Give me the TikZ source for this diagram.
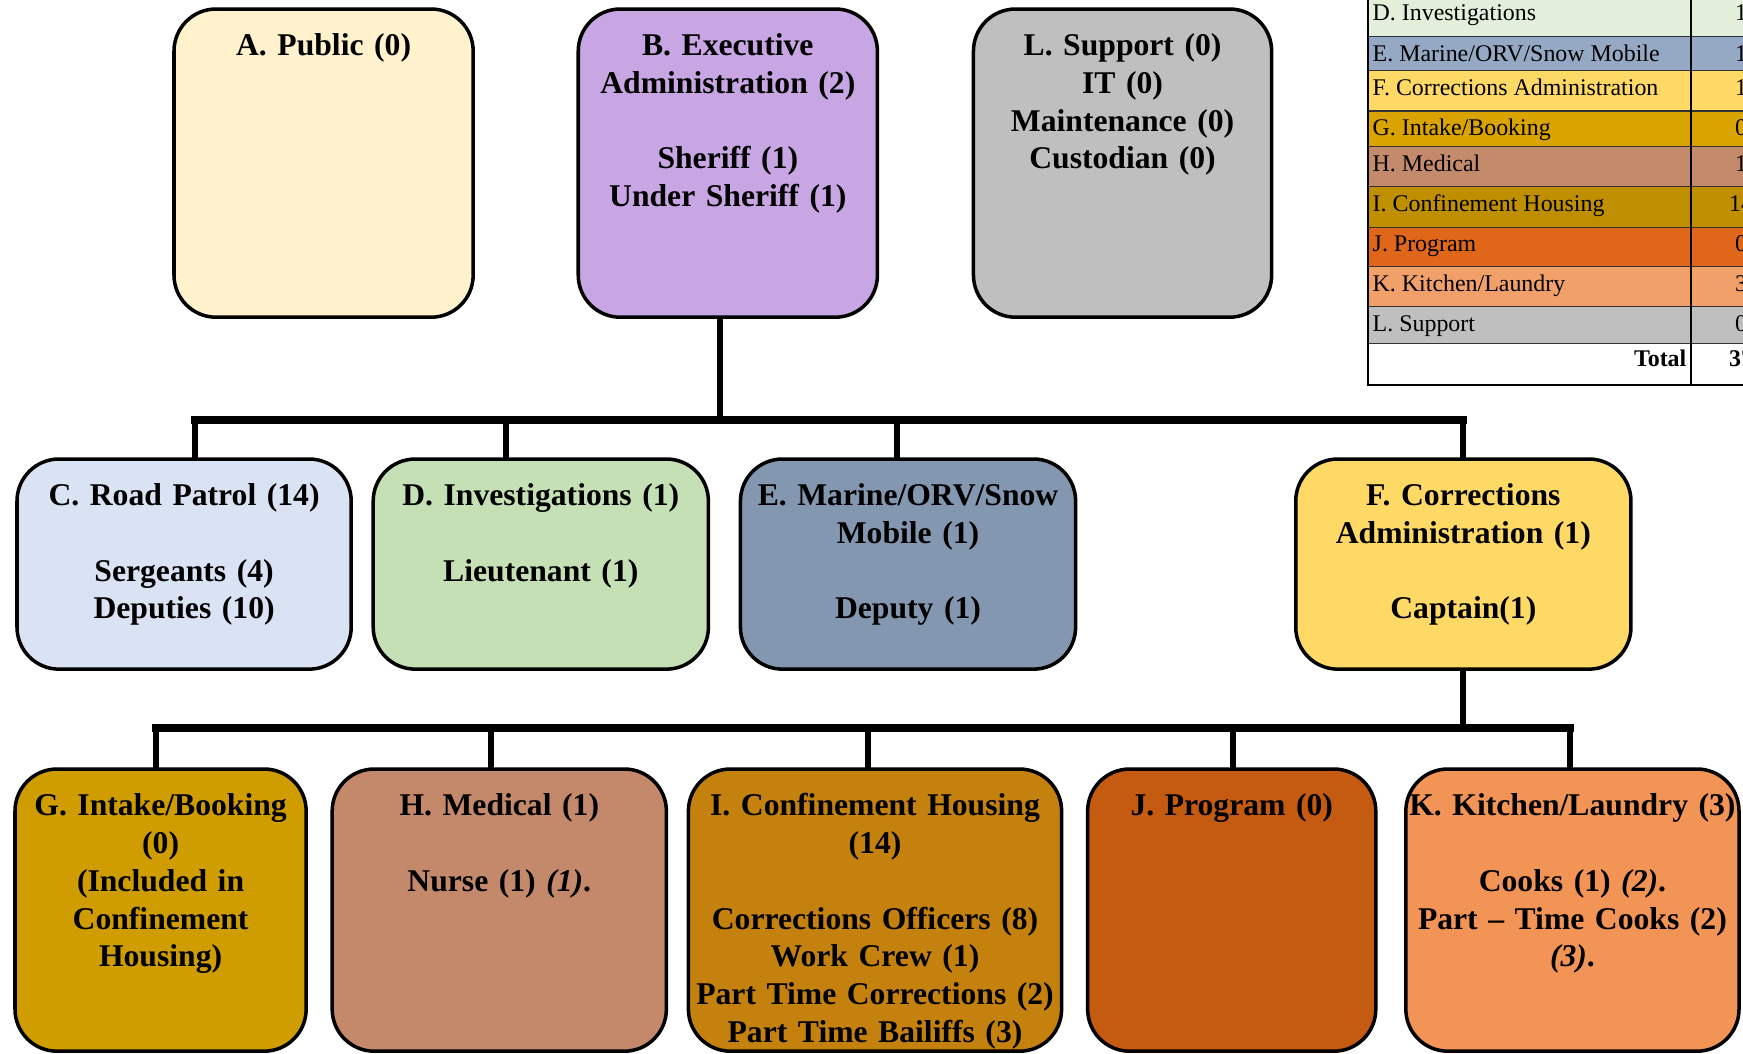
\documentclass[tikz,border=0pt]{standalone}
\usepackage{fontspec}
\setmainfont{Liberation Serif}
\usetikzlibrary{positioning}
\definecolor{PublicFill}{HTML}{FFF2CC}
\definecolor{ExecFill}{HTML}{C8A5E3}
\definecolor{SupportFill}{HTML}{BFBFBF}
\definecolor{PatrolFill}{HTML}{DAE3F3}
\definecolor{InvestFill}{HTML}{C5E0B4}
\definecolor{MarineFill}{HTML}{8497B0}
\definecolor{CorrFill}{HTML}{FFD966}
\definecolor{IntakeFill}{HTML}{CF9D00}
\definecolor{MedicalFill}{HTML}{C4896B}
\definecolor{HousingFill}{HTML}{C4810D}
\definecolor{ProgramFill}{HTML}{C55A11}
\definecolor{KitchenFill}{HTML}{F19455}
\definecolor{RowD}{HTML}{E2EFDA}
\definecolor{RowE}{HTML}{95A8C4}
\definecolor{RowF}{HTML}{FFD966}
\definecolor{RowG}{HTML}{D9A300}
\definecolor{RowH}{HTML}{C38A6B}
\definecolor{RowI}{HTML}{BF8F00}
\definecolor{RowJ}{HTML}{E0661A}
\definecolor{RowK}{HTML}{F2A06A}
\definecolor{RowL}{HTML}{BFBFBF}
\tikzset{
    % rounded unit boxes, text hung from the top
    unitbox/.style={
        rectangle,
        rounded corners=0.42cm,
        draw=black,
        line width=1pt,
        align=center,
        inner xsep=0.02cm,
        inner ysep=0pt,
        outer sep=0pt,
        text height=0.46cm,
        font=\fontsize{9}{10.8}\selectfont\bfseries
    },
    toprow/.style={unitbox, text depth=2.62cm},
    midrow/.style={unitbox, text depth=1.64cm},
    lowrow/.style={unitbox, text depth=2.36cm},
    busline/.style={line width=2.3pt, line cap=rect},
    branch/.style={line width=1.9pt},
    tabletext/.style={inner sep=0pt, font=\fontsize{6.8}{8}\selectfont},
    tablerule/.style={line width=0.4pt, draw=black!80}
}
\begin{document}
\begin{tikzpicture}[x=0.01cm, y=-0.01cm]
    \path[use as bounding box, clip] (0,0) rectangle (1743,1053);
    \fill[white] (0,0) rectangle (1743,1053);

    % Top row
    \node[toprow, fill=PublicFill, text width=2.95cm, anchor=north west] (a) at (174,9) {A. Public (0)};
    \node[toprow, fill=ExecFill, text width=2.95cm, right=1.05cm of a] (b) {
        B. Executive\\Administration (2)\\[10.8pt]
        Sheriff (1)\\Under Sheriff (1)
    };
    \node[toprow, fill=SupportFill, text width=2.94cm, right=0.96cm of b] (l) {
        L. Support (0)\\IT (0)\\Maintenance (0)\\Custodian (0)
    };

    % Middle row
    \node[midrow, fill=PatrolFill, text width=3.30cm, anchor=north west] (c) at (17,459) {
        C. Road Patrol (14)\\[10.8pt]
        Sergeants (4)\\Deputies (10)
    };
    \node[midrow, fill=InvestFill, text width=3.31cm, right=0.22cm of c] (d) {
        D. Investigations (1)\\[10.8pt]
        Lieutenant (1)
    };
    \node[midrow, fill=MarineFill, text width=3.31cm, right=0.32cm of d] (e) {
        E. Marine/ORV/Snow\\Mobile (1)\\[10.8pt]
        Deputy (1)
    };
    \node[midrow, fill=CorrFill, text width=3.31cm, right=2.20cm of e] (f) {
        F. Corrections\\Administration (1)\\[10.8pt]
        Captain(1)
    };

    % Bottom row
    \node[lowrow, fill=IntakeFill, text width=2.87cm, anchor=north west] (g) at (15,769) {
        G. Intake/Booking\\(0)\\(Included in\\Confinement\\Housing)
    };
    \node[lowrow, fill=MedicalFill, text width=3.30cm, right=0.26cm of g] (h) {
        H. Medical (1)\\[10.8pt]
        Nurse (1) \textit{(1)}.
    };
    \node[lowrow, fill=HousingFill, text width=3.69cm, right=0.22cm of h] (i) {
        I. Confinement Housing\\(14)\\[10.8pt]
        Corrections Officers (8)\\Work Crew (1)\\Part Time Corrections (2)\\Part Time Bailiffs (3)
    };
    \node[lowrow, fill=ProgramFill, text width=2.84cm, right=0.26cm of i] (j) {J. Program (0)};
    \node[lowrow, fill=KitchenFill, text width=3.29cm, right=0.30cm of j] (k) {
        K. Kitchen/Laundry (3)\\[10.8pt]
        Cooks (1) \textit{(2)}.\\Part -- Time Cooks (2)\\\textit{(3)}.
    };

    % Connectors
    \coordinate (hub1) at (720,420);
    \foreach \n/\x in {c/195, d/506, e/897, f/1463}
        \coordinate (drop-\n) at (\x,420);
    \draw[branch] (hub1 |- b.south) -- (hub1);
    \draw[busline] (drop-c) -- (drop-f);
    \foreach \n in {c,d,e,f}
        \draw[branch] (drop-\n) -- (drop-\n |- \n.north);

    \coordinate (hub2) at (1463,728);
    \foreach \n/\x in {g/156, h/491, i/868, j/1233, k/1570}
        \coordinate (drop-\n) at (\x,728);
    \draw[branch] (hub2 |- f.south) -- (hub2);
    \draw[busline] (drop-g) -- (drop-k);
    \foreach \n in {g,h,i,j,k}
        \draw[branch] (drop-\n) -- (drop-\n |- \n.north);

    % Staffing table (cut by the right edge)
    \fill[RowD] (1368,-10) rectangle (1800,36.7);
    \fill[RowE] (1368,36.7) rectangle (1800,70.7);
    \fill[RowF] (1368,70.7) rectangle (1800,111);
    \fill[RowG] (1368,111) rectangle (1800,146.7);
    \fill[RowH] (1368,146.7) rectangle (1800,186.7);
    \fill[RowI] (1368,186.7) rectangle (1800,227.3);
    \fill[RowJ] (1368,227.3) rectangle (1800,266.7);
    \fill[RowK] (1368,266.7) rectangle (1800,306.7);
    \fill[RowL] (1368,306.7) rectangle (1800,343.3);
    \foreach \y in {36.7, 70.7, 111, 146.7, 186.7, 227.3, 266.7, 306.7, 343.3}
        \draw[tablerule] (1368,\y) -- (1800,\y);
    \draw[line width=0.5pt] (1691,-10) -- (1691,385);
    \draw[line width=0.8pt] (1368,-10) -- (1368,385) -- (1800,385);

    \node[tabletext, anchor=base west] (tab-d) at (1372,20.5) {D. Investigations};
    \node[tabletext, anchor=base west] (tab-e) at (1372,61.2) {E. Marine/ORV/Snow Mobile};
    \node[tabletext, anchor=base west] (tab-f) at (1372,95.6) {F. Corrections Administration};
    \node[tabletext, anchor=base west] (tab-g) at (1372,135.5) {G. Intake/Booking};
    \node[tabletext, anchor=base west] (tab-h) at (1372,171.2) {H. Medical};
    \node[tabletext, anchor=base west] (tab-i) at (1372,211.2) {I. Confinement Housing};
    \node[tabletext, anchor=base west] (tab-j) at (1372,251.8) {J. Program};
    \node[tabletext, anchor=base west] (tab-k) at (1372,291.2) {K. Kitchen/Laundry};
    \node[tabletext, anchor=base west] (tab-l) at (1372,331.2) {L. Support};
    \node[tabletext, anchor=base east, font=\fontsize{6.8}{8}\selectfont\bfseries] (tab-total) at (1687,366.8) {Total};

    \node[tabletext, anchor=base] (num-d) at (1741,20.5) {1};
    \node[tabletext, anchor=base] (num-e) at (1741,61.2) {1};
    \node[tabletext, anchor=base] (num-f) at (1741,95.6) {1};
    \node[tabletext, anchor=base] (num-g) at (1741,135.5) {0};
    \node[tabletext, anchor=base] (num-h) at (1741,171.2) {1};
    \node[tabletext, anchor=base] (num-i) at (1741,211.2) {14};
    \node[tabletext, anchor=base] (num-j) at (1741,251.8) {0};
    \node[tabletext, anchor=base] (num-k) at (1741,291.2) {3};
    \node[tabletext, anchor=base] (num-l) at (1741,331.2) {0};
    \node[tabletext, anchor=base, font=\fontsize{6.8}{8}\selectfont\bfseries] (num-total) at (1741,366.8) {37};
\end{tikzpicture}
\end{document}
